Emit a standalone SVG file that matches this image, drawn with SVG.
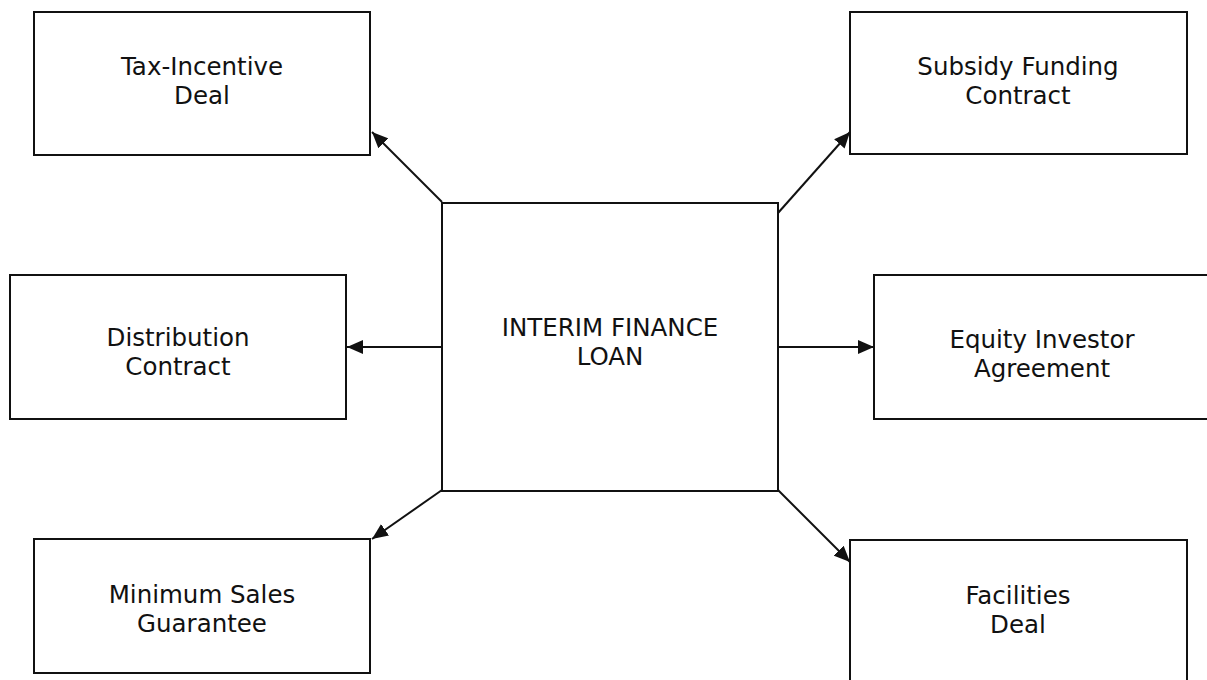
<svg xmlns="http://www.w3.org/2000/svg" width="1207" height="680" viewBox="0 0 1207 680">
  <style>
    .box { fill: #ffffff; stroke: #111111; stroke-width: 2; }
    .label { font-family: "DejaVu Sans", Verdana, sans-serif; font-size: 24.5px; fill: #111111; text-anchor: middle; }
    .link { stroke: #111111; stroke-width: 2; fill: none; marker-end: url(#arrow); }
  </style>
  <defs>
    <marker id="arrow" markerUnits="userSpaceOnUse" markerWidth="18" markerHeight="15" refX="16" refY="7.5" orient="auto">
      <path d="M0,0.5 L16,7.5 L0,14.5 Z" fill="#111111"/>
    </marker>
  </defs>
  <rect width="1207" height="680" fill="#ffffff"/>

  <!-- central loan node -->
  <g id="interim-finance-loan">
    <rect class="box" x="442" y="203" width="336" height="288"/>
    <text class="label" x="610" y="336">INTERIM FINANCE</text>
    <text class="label" x="610" y="365">LOAN</text>
  </g>

  <g id="tax-incentive-deal">
    <rect class="box" x="34" y="12" width="336" height="143"/>
    <text class="label" x="202" y="75">Tax-Incentive</text>
    <text class="label" x="202" y="104">Deal</text>
  </g>

  <g id="subsidy-funding-contract">
    <rect class="box" x="850" y="12" width="337" height="142"/>
    <text class="label" x="1018" y="75">Subsidy Funding</text>
    <text class="label" x="1018" y="104">Contract</text>
  </g>

  <g id="distribution-contract">
    <rect class="box" x="10" y="275" width="336" height="144"/>
    <text class="label" x="178" y="346">Distribution</text>
    <text class="label" x="178" y="375">Contract</text>
  </g>

  <g id="equity-investor-agreement">
    <rect class="box" x="874" y="275" width="345" height="144"/>
    <text class="label" x="1042" y="348">Equity Investor</text>
    <text class="label" x="1042" y="377">Agreement</text>
  </g>

  <g id="minimum-sales-guarantee">
    <rect class="box" x="34" y="539" width="336" height="134"/>
    <text class="label" x="202" y="603">Minimum Sales</text>
    <text class="label" x="202" y="632">Guarantee</text>
  </g>

  <g id="facilities-deal">
    <rect class="box" x="850" y="540" width="337" height="150"/>
    <text class="label" x="1018" y="604">Facilities</text>
    <text class="label" x="1018" y="633">Deal</text>
  </g>

  <!-- connectors from the loan to each agreement -->
  <g id="connectors">
    <line class="link" x1="442" y1="202" x2="372" y2="132"/>
    <line class="link" x1="778" y1="213" x2="850" y2="132"/>
    <line class="link" x1="442" y1="347" x2="347" y2="347"/>
    <line class="link" x1="778" y1="347" x2="874" y2="347"/>
    <line class="link" x1="442" y1="490" x2="372" y2="539"/>
    <line class="link" x1="778" y1="490" x2="850" y2="562"/>
  </g>
</svg>
